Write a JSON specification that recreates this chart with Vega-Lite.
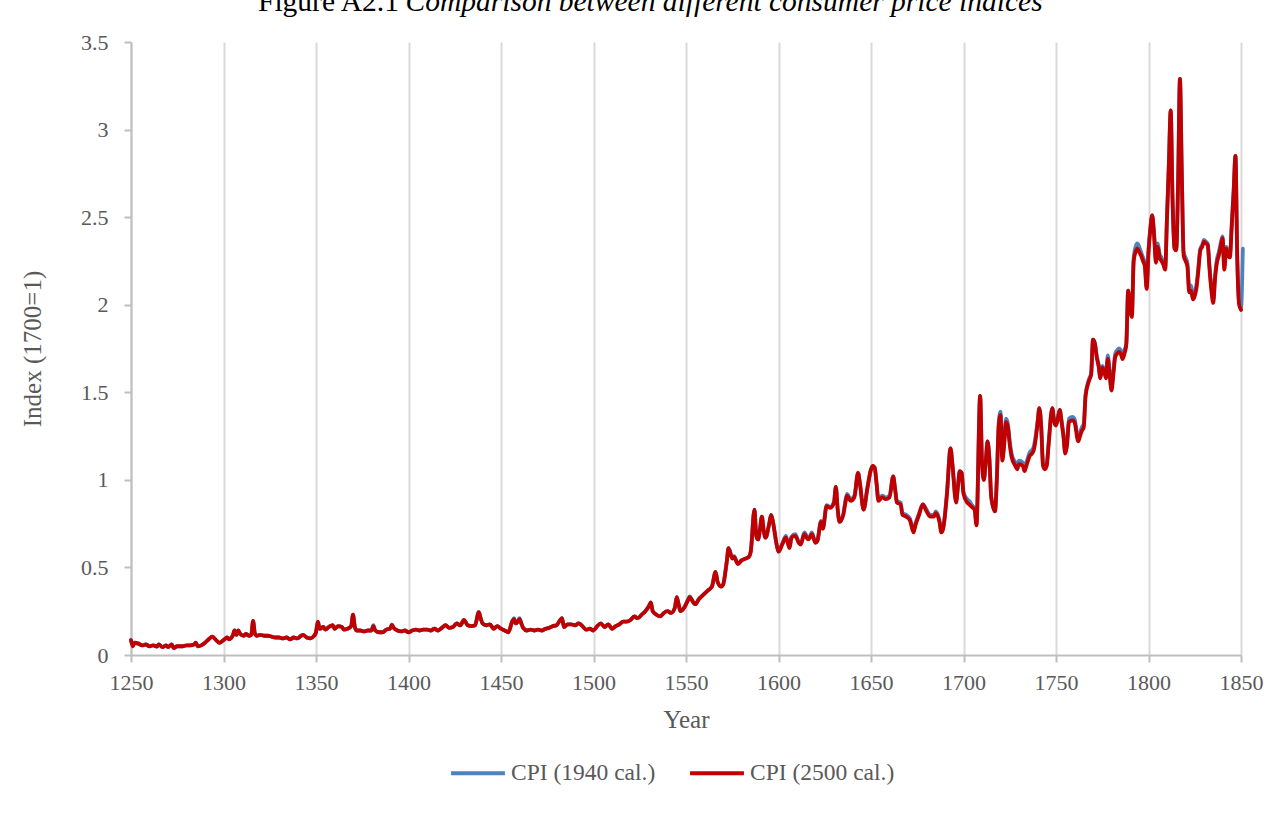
{
  "$schema": "https://vega.github.io/schema/vega-lite/v6.json",
  "width": 1110,
  "height": 613,
  "autosize": "none",
  "padding": {"left": 131, "top": 42, "right": 43, "bottom": 165},
  "background": "white",
  "title": {
    "text": "Figure A2.1",
    "subtitle": "\u200b\u00a0\u00a0\u00a0\u00a0\u00a0\u00a0\u00a0\u00a0\u00a0\u00a0\u00a0\u00a0\u00a0\u00a0\u00a0\u00a0\u00a0\u00a0\u00a0\u00a0Comparison between different consumer price indices",
    "anchor": "start",
    "align": "left",
    "frame": "group",
    "dx": 127,
    "offset": 14,
    "font": "Liberation Serif",
    "fontSize": 29.5,
    "fontWeight": "normal",
    "color": "#000000",
    "subtitleFont": "Liberation Serif",
    "subtitleFontSize": 29.5,
    "subtitleFontStyle": "italic",
    "subtitleColor": "#000000",
    "subtitlePadding": -29.5
  },
  "data": {"values": [
    {"year":1250,"b":0.085,"r":0.085},{"year":1251,"b":0.05,"r":0.05},{"year":1252,"b":0.07,"r":0.07},{"year":1254,"b":0.065,"r":0.065},
    {"year":1256,"b":0.055,"r":0.055},{"year":1258,"b":0.06,"r":0.06},{"year":1260,"b":0.05,"r":0.05},{"year":1262,"b":0.055,"r":0.055},
    {"year":1264,"b":0.048,"r":0.048},{"year":1265,"b":0.06,"r":0.06},{"year":1267,"b":0.045,"r":0.045},{"year":1269,"b":0.055,"r":0.055},
    {"year":1270,"b":0.045,"r":0.045},{"year":1272,"b":0.06,"r":0.06},{"year":1273,"b":0.04,"r":0.04},{"year":1275,"b":0.05,"r":0.05},
    {"year":1278,"b":0.05,"r":0.05},{"year":1280,"b":0.055,"r":0.055},{"year":1282,"b":0.055,"r":0.055},{"year":1284,"b":0.06,"r":0.06},
    {"year":1285,"b":0.07,"r":0.07},{"year":1286,"b":0.05,"r":0.05},{"year":1288,"b":0.055,"r":0.055},{"year":1290,"b":0.07,"r":0.07},
    {"year":1292,"b":0.09,"r":0.09},{"year":1294,"b":0.105,"r":0.105},{"year":1296,"b":0.085,"r":0.085},{"year":1298,"b":0.07,"r":0.07},
    {"year":1300,"b":0.085,"r":0.085},{"year":1302,"b":0.1,"r":0.1},{"year":1303,"b":0.09,"r":0.09},{"year":1305,"b":0.11,"r":0.11},
    {"year":1306,"b":0.14,"r":0.14},{"year":1307,"b":0.115,"r":0.115},{"year":1308,"b":0.14,"r":0.14},{"year":1309,"b":0.12,"r":0.12},
    {"year":1311,"b":0.11,"r":0.11},{"year":1312,"b":0.12,"r":0.12},{"year":1314,"b":0.11,"r":0.11},{"year":1315,"b":0.115,"r":0.115},
    {"year":1316,"b":0.195,"r":0.195},{"year":1317,"b":0.12,"r":0.12},{"year":1318,"b":0.11,"r":0.11},{"year":1320,"b":0.115,"r":0.115},
    {"year":1322,"b":0.11,"r":0.11},{"year":1324,"b":0.11,"r":0.11},{"year":1326,"b":0.105,"r":0.105},{"year":1328,"b":0.1,"r":0.1},
    {"year":1330,"b":0.1,"r":0.1},{"year":1332,"b":0.095,"r":0.095},{"year":1334,"b":0.1,"r":0.1},{"year":1336,"b":0.09,"r":0.09},
    {"year":1338,"b":0.1,"r":0.1},{"year":1340,"b":0.095,"r":0.095},{"year":1342,"b":0.11,"r":0.11},{"year":1343,"b":0.115,"r":0.115},
    {"year":1345,"b":0.1,"r":0.1},{"year":1347,"b":0.095,"r":0.095},{"year":1349,"b":0.11,"r":0.11},{"year":1350,"b":0.13,"r":0.13},
    {"year":1351,"b":0.19,"r":0.19},{"year":1352,"b":0.15,"r":0.15},{"year":1354,"b":0.16,"r":0.16},{"year":1355,"b":0.145,"r":0.145},
    {"year":1357,"b":0.16,"r":0.16},{"year":1359,"b":0.17,"r":0.17},{"year":1360,"b":0.15,"r":0.15},{"year":1362,"b":0.165,"r":0.165},
    {"year":1364,"b":0.16,"r":0.16},{"year":1365,"b":0.145,"r":0.145},{"year":1367,"b":0.15,"r":0.15},{"year":1369,"b":0.165,"r":0.165},
    {"year":1370,"b":0.23,"r":0.23},{"year":1371,"b":0.16,"r":0.16},{"year":1372,"b":0.14,"r":0.14},{"year":1374,"b":0.14,"r":0.14},
    {"year":1376,"b":0.135,"r":0.135},{"year":1378,"b":0.14,"r":0.14},{"year":1380,"b":0.14,"r":0.14},{"year":1381,"b":0.17,"r":0.165},
    {"year":1382,"b":0.14,"r":0.14},{"year":1384,"b":0.13,"r":0.13},{"year":1386,"b":0.13,"r":0.13},{"year":1388,"b":0.145,"r":0.145},
    {"year":1390,"b":0.15,"r":0.15},{"year":1391,"b":0.175,"r":0.17},{"year":1392,"b":0.155,"r":0.155},{"year":1394,"b":0.14,"r":0.14},
    {"year":1396,"b":0.135,"r":0.135},{"year":1398,"b":0.14,"r":0.14},{"year":1400,"b":0.13,"r":0.13},{"year":1402,"b":0.14,"r":0.14},
    {"year":1404,"b":0.145,"r":0.145},{"year":1406,"b":0.14,"r":0.14},{"year":1408,"b":0.145,"r":0.145},{"year":1410,"b":0.145,"r":0.145},
    {"year":1412,"b":0.14,"r":0.14},{"year":1414,"b":0.15,"r":0.15},{"year":1416,"b":0.14,"r":0.14},{"year":1418,"b":0.155,"r":0.155},
    {"year":1420,"b":0.17,"r":0.17},{"year":1422,"b":0.155,"r":0.155},{"year":1424,"b":0.16,"r":0.16},{"year":1426,"b":0.18,"r":0.18},
    {"year":1428,"b":0.17,"r":0.17},{"year":1430,"b":0.2,"r":0.2},{"year":1432,"b":0.17,"r":0.17},{"year":1434,"b":0.165,"r":0.165},
    {"year":1436,"b":0.17,"r":0.17},{"year":1438,"b":0.245,"r":0.245},{"year":1439,"b":0.21,"r":0.21},{"year":1440,"b":0.18,"r":0.18},
    {"year":1442,"b":0.17,"r":0.17},{"year":1444,"b":0.175,"r":0.175},{"year":1446,"b":0.15,"r":0.15},{"year":1448,"b":0.165,"r":0.165},
    {"year":1450,"b":0.15,"r":0.15},{"year":1452,"b":0.14,"r":0.14},{"year":1454,"b":0.13,"r":0.13},{"year":1456,"b":0.19,"r":0.19},
    {"year":1457,"b":0.21,"r":0.205},{"year":1458,"b":0.18,"r":0.18},{"year":1459,"b":0.19,"r":0.19},{"year":1460,"b":0.21,"r":0.205},
    {"year":1461,"b":0.18,"r":0.18},{"year":1462,"b":0.155,"r":0.155},{"year":1464,"b":0.14,"r":0.14},{"year":1466,"b":0.145,"r":0.145},
    {"year":1468,"b":0.14,"r":0.14},{"year":1470,"b":0.145,"r":0.145},{"year":1472,"b":0.14,"r":0.14},{"year":1474,"b":0.15,"r":0.15},
    {"year":1476,"b":0.155,"r":0.155},{"year":1478,"b":0.165,"r":0.165},{"year":1480,"b":0.17,"r":0.17},{"year":1482,"b":0.2,"r":0.2},
    {"year":1483,"b":0.21,"r":0.21},{"year":1484,"b":0.16,"r":0.16},{"year":1486,"b":0.175,"r":0.175},{"year":1488,"b":0.175,"r":0.175},
    {"year":1490,"b":0.17,"r":0.17},{"year":1492,"b":0.18,"r":0.18},{"year":1494,"b":0.165,"r":0.165},{"year":1496,"b":0.145,"r":0.145},
    {"year":1498,"b":0.15,"r":0.15},{"year":1500,"b":0.14,"r":0.14},{"year":1502,"b":0.165,"r":0.165},{"year":1504,"b":0.18,"r":0.18},
    {"year":1506,"b":0.16,"r":0.16},{"year":1508,"b":0.175,"r":0.175},{"year":1510,"b":0.15,"r":0.15},{"year":1512,"b":0.165,"r":0.165},
    {"year":1514,"b":0.175,"r":0.175},{"year":1516,"b":0.19,"r":0.19},{"year":1518,"b":0.19,"r":0.19},{"year":1520,"b":0.2,"r":0.2},
    {"year":1522,"b":0.22,"r":0.22},{"year":1524,"b":0.21,"r":0.21},{"year":1526,"b":0.23,"r":0.23},{"year":1528,"b":0.25,"r":0.25},
    {"year":1530,"b":0.28,"r":0.28},{"year":1531,"b":0.3,"r":0.3},{"year":1532,"b":0.25,"r":0.25},{"year":1534,"b":0.23,"r":0.23},
    {"year":1536,"b":0.22,"r":0.22},{"year":1538,"b":0.24,"r":0.24},{"year":1540,"b":0.25,"r":0.25},{"year":1542,"b":0.24,"r":0.24},
    {"year":1544,"b":0.27,"r":0.27},{"year":1545,"b":0.33,"r":0.33},{"year":1546,"b":0.29,"r":0.29},{"year":1547,"b":0.25,"r":0.25},
    {"year":1549,"b":0.27,"r":0.27},{"year":1551,"b":0.315,"r":0.31},{"year":1552,"b":0.335,"r":0.33},{"year":1554,"b":0.3,"r":0.3},
    {"year":1555,"b":0.29,"r":0.29},{"year":1557,"b":0.32,"r":0.32},{"year":1558,"b":0.33,"r":0.33},{"year":1560,"b":0.35,"r":0.35},
    {"year":1562,"b":0.37,"r":0.37},{"year":1564,"b":0.39,"r":0.39},{"year":1566,"b":0.475,"r":0.475},{"year":1567,"b":0.42,"r":0.42},
    {"year":1569,"b":0.39,"r":0.39},{"year":1570,"b":0.4,"r":0.4},{"year":1572,"b":0.53,"r":0.53},{"year":1573,"b":0.61,"r":0.61},
    {"year":1575,"b":0.56,"r":0.55},{"year":1576,"b":0.565,"r":0.56},{"year":1578,"b":0.52,"r":0.52},{"year":1580,"b":0.54,"r":0.54},
    {"year":1582,"b":0.55,"r":0.55},{"year":1584,"b":0.56,"r":0.56},{"year":1585,"b":0.59,"r":0.59},{"year":1587,"b":0.83,"r":0.83},
    {"year":1588,"b":0.68,"r":0.68},{"year":1589,"b":0.66,"r":0.66},{"year":1590,"b":0.72,"r":0.72},{"year":1591,"b":0.79,"r":0.79},
    {"year":1592,"b":0.71,"r":0.71},{"year":1593,"b":0.67,"r":0.67},{"year":1595,"b":0.75,"r":0.75},{"year":1596,"b":0.8,"r":0.8},
    {"year":1597,"b":0.76,"r":0.76},{"year":1599,"b":0.63,"r":0.63},{"year":1600,"b":0.59,"r":0.59},{"year":1602,"b":0.635,"r":0.63},
    {"year":1604,"b":0.68,"r":0.67},{"year":1605,"b":0.645,"r":0.64},{"year":1606,"b":0.615,"r":0.61},{"year":1607,"b":0.675,"r":0.67},
    {"year":1609,"b":0.69,"r":0.68},{"year":1611,"b":0.645,"r":0.64},{"year":1612,"b":0.635,"r":0.63},{"year":1614,"b":0.7,"r":0.69},
    {"year":1616,"b":0.665,"r":0.66},{"year":1617,"b":0.68,"r":0.67},{"year":1618,"b":0.7,"r":0.69},{"year":1620,"b":0.645,"r":0.64},
    {"year":1621,"b":0.655,"r":0.65},{"year":1623,"b":0.765,"r":0.76},{"year":1624,"b":0.725,"r":0.72},{"year":1626,"b":0.855,"r":0.85},
    {"year":1628,"b":0.845,"r":0.84},{"year":1630,"b":0.875,"r":0.87},{"year":1631,"b":0.96,"r":0.96},{"year":1632,"b":0.83,"r":0.83},
    {"year":1633,"b":0.76,"r":0.76},{"year":1635,"b":0.8,"r":0.8},{"year":1636,"b":0.87,"r":0.86},{"year":1637,"b":0.92,"r":0.91},
    {"year":1639,"b":0.89,"r":0.88},{"year":1641,"b":0.91,"r":0.9},{"year":1643,"b":1.04,"r":1.04},{"year":1644,"b":0.98,"r":0.98},
    {"year":1646,"b":0.83,"r":0.83},{"year":1648,"b":0.95,"r":0.95},{"year":1650,"b":1.06,"r":1.06},{"year":1651,"b":1.08,"r":1.08},
    {"year":1652,"b":1.07,"r":1.07},{"year":1653,"b":0.98,"r":0.98},{"year":1654,"b":0.89,"r":0.88},{"year":1656,"b":0.91,"r":0.9},
    {"year":1658,"b":0.9,"r":0.89},{"year":1660,"b":0.91,"r":0.9},{"year":1662,"b":1.02,"r":1.02},{"year":1663,"b":0.95,"r":0.95},
    {"year":1664,"b":0.88,"r":0.87},{"year":1666,"b":0.87,"r":0.86},{"year":1667,"b":0.81,"r":0.8},{"year":1669,"b":0.8,"r":0.79},
    {"year":1671,"b":0.78,"r":0.77},{"year":1673,"b":0.71,"r":0.7},{"year":1674,"b":0.75,"r":0.74},{"year":1676,"b":0.81,"r":0.8},
    {"year":1678,"b":0.86,"r":0.86},{"year":1680,"b":0.83,"r":0.82},{"year":1682,"b":0.8,"r":0.79},{"year":1684,"b":0.8,"r":0.79},
    {"year":1685,"b":0.82,"r":0.81},{"year":1687,"b":0.77,"r":0.76},{"year":1688,"b":0.71,"r":0.7},{"year":1689,"b":0.73,"r":0.72},
    {"year":1691,"b":0.92,"r":0.91},{"year":1693,"b":1.18,"r":1.18},{"year":1694,"b":1.09,"r":1.09},{"year":1696,"b":0.88,"r":0.87},
    {"year":1697,"b":0.97,"r":0.96},{"year":1698,"b":1.05,"r":1.05},{"year":1699,"b":1.04,"r":1.04},{"year":1700,"b":0.93,"r":0.92},
    {"year":1702,"b":0.89,"r":0.87},{"year":1703,"b":0.88,"r":0.86},{"year":1705,"b":0.85,"r":0.84},{"year":1706,"b":0.84,"r":0.83},
    {"year":1707,"b":0.75,"r":0.74},{"year":1709,"b":1.48,"r":1.48},{"year":1710,"b":1.1,"r":1.1},{"year":1711,"b":1.0,"r":1.0},
    {"year":1712,"b":1.1,"r":1.1},{"year":1713,"b":1.22,"r":1.22},{"year":1714,"b":1.12,"r":1.12},{"year":1715,"b":0.9,"r":0.9},
    {"year":1717,"b":0.82,"r":0.82},{"year":1718,"b":1.0,"r":1.0},{"year":1719,"b":1.32,"r":1.3},{"year":1720,"b":1.39,"r":1.37},
    {"year":1721,"b":1.13,"r":1.11},{"year":1722,"b":1.22,"r":1.2},{"year":1723,"b":1.35,"r":1.33},{"year":1724,"b":1.32,"r":1.3},
    {"year":1725,"b":1.22,"r":1.2},{"year":1726,"b":1.15,"r":1.13},{"year":1728,"b":1.1,"r":1.08},{"year":1729,"b":1.08,"r":1.06},
    {"year":1730,"b":1.11,"r":1.09},{"year":1732,"b":1.1,"r":1.08},{"year":1733,"b":1.07,"r":1.05},{"year":1734,"b":1.1,"r":1.08},
    {"year":1736,"b":1.16,"r":1.14},{"year":1737,"b":1.17,"r":1.15},{"year":1738,"b":1.19,"r":1.17},{"year":1739,"b":1.25,"r":1.23},
    {"year":1740,"b":1.33,"r":1.32},{"year":1741,"b":1.41,"r":1.41},{"year":1742,"b":1.31,"r":1.3},{"year":1743,"b":1.09,"r":1.08},
    {"year":1744,"b":1.07,"r":1.06},{"year":1745,"b":1.09,"r":1.08},{"year":1746,"b":1.21,"r":1.2},{"year":1748,"b":1.41,"r":1.41},
    {"year":1749,"b":1.34,"r":1.33},{"year":1750,"b":1.32,"r":1.31},{"year":1751,"b":1.36,"r":1.35},{"year":1752,"b":1.4,"r":1.4},
    {"year":1753,"b":1.34,"r":1.33},{"year":1754,"b":1.26,"r":1.25},{"year":1755,"b":1.16,"r":1.15},{"year":1756,"b":1.22,"r":1.2},
    {"year":1757,"b":1.35,"r":1.33},{"year":1759,"b":1.36,"r":1.34},{"year":1760,"b":1.35,"r":1.33},{"year":1762,"b":1.24,"r":1.22},
    {"year":1763,"b":1.27,"r":1.25},{"year":1764,"b":1.3,"r":1.28},{"year":1765,"b":1.32,"r":1.3},{"year":1766,"b":1.49,"r":1.48},
    {"year":1768,"b":1.58,"r":1.57},{"year":1769,"b":1.61,"r":1.6},{"year":1770,"b":1.8,"r":1.8},{"year":1771,"b":1.78,"r":1.78},
    {"year":1772,"b":1.71,"r":1.7},{"year":1773,"b":1.66,"r":1.65},{"year":1774,"b":1.59,"r":1.58},{"year":1775,"b":1.65,"r":1.64},
    {"year":1776,"b":1.63,"r":1.62},{"year":1777,"b":1.6,"r":1.58},{"year":1778,"b":1.71,"r":1.69},{"year":1779,"b":1.62,"r":1.6},
    {"year":1780,"b":1.52,"r":1.51},{"year":1781,"b":1.62,"r":1.6},{"year":1782,"b":1.72,"r":1.7},{"year":1783,"b":1.74,"r":1.72},
    {"year":1784,"b":1.75,"r":1.73},{"year":1785,"b":1.74,"r":1.72},{"year":1786,"b":1.71,"r":1.69},{"year":1787,"b":1.74,"r":1.72},
    {"year":1788,"b":1.78,"r":1.77},{"year":1789,"b":2.08,"r":2.08},{"year":1790,"b":1.99,"r":1.98},{"year":1791,"b":1.94,"r":1.93},
    {"year":1792,"b":2.27,"r":2.25},{"year":1793,"b":2.33,"r":2.3},{"year":1794,"b":2.35,"r":2.32},{"year":1795,"b":2.33,"r":2.3},
    {"year":1796,"b":2.3,"r":2.28},{"year":1797,"b":2.27,"r":2.25},{"year":1798,"b":2.24,"r":2.22},{"year":1799,"b":2.1,"r":2.09},
    {"year":1800,"b":2.31,"r":2.3},{"year":1801,"b":2.44,"r":2.43},{"year":1802,"b":2.51,"r":2.51},{"year":1803,"b":2.41,"r":2.4},
    {"year":1804,"b":2.26,"r":2.24},{"year":1805,"b":2.35,"r":2.33},{"year":1806,"b":2.29,"r":2.27},{"year":1807,"b":2.27,"r":2.25},
    {"year":1808,"b":2.24,"r":2.23},{"year":1809,"b":2.21,"r":2.2},{"year":1810,"b":2.5,"r":2.5},{"year":1811,"b":2.8,"r":2.8},
    {"year":1812,"b":3.11,"r":3.11},{"year":1813,"b":2.6,"r":2.6},{"year":1814,"b":2.33,"r":2.32},{"year":1815,"b":2.32,"r":2.31},
    {"year":1816,"b":2.7,"r":2.7},{"year":1817,"b":3.29,"r":3.29},{"year":1818,"b":2.75,"r":2.75},{"year":1819,"b":2.3,"r":2.28},
    {"year":1820,"b":2.27,"r":2.25},{"year":1821,"b":2.24,"r":2.22},{"year":1822,"b":2.1,"r":2.07},{"year":1823,"b":2.11,"r":2.08},
    {"year":1824,"b":2.06,"r":2.03},{"year":1825,"b":2.07,"r":2.05},{"year":1826,"b":2.12,"r":2.1},{"year":1827,"b":2.22,"r":2.2},
    {"year":1828,"b":2.32,"r":2.31},{"year":1829,"b":2.34,"r":2.33},{"year":1830,"b":2.37,"r":2.36},{"year":1831,"b":2.36,"r":2.35},
    {"year":1832,"b":2.35,"r":2.34},{"year":1833,"b":2.22,"r":2.2},{"year":1834,"b":2.1,"r":2.08},{"year":1835,"b":2.03,"r":2.01},
    {"year":1836,"b":2.17,"r":2.15},{"year":1837,"b":2.26,"r":2.24},{"year":1838,"b":2.3,"r":2.28},{"year":1839,"b":2.35,"r":2.33},
    {"year":1840,"b":2.39,"r":2.38},{"year":1841,"b":2.22,"r":2.2},{"year":1842,"b":2.33,"r":2.32},{"year":1843,"b":2.3,"r":2.28},
    {"year":1844,"b":2.29,"r":2.27},{"year":1845,"b":2.46,"r":2.45},{"year":1846,"b":2.65,"r":2.64},{"year":1847,"b":2.85,"r":2.85},
    {"year":1848,"b":2.27,"r":2.25},{"year":1849,"b":2.01,"r":2.0},{"year":1850,"b":1.98,"r":1.97},{"year":1851,"b":2.32,"r":null}
  ]},
  "transform": [{"fold": ["b", "r"], "as": ["series", "value"]}],
  "mark": {"type": "line", "strokeWidth": 3.8, "interpolate": "monotone", "strokeCap": "round", "strokeJoin": "round", "clip": false},
  "encoding": {
    "x": {
      "field": "year", "type": "quantitative",
      "scale": {"domain": [1250, 1850], "nice": false, "zero": false},
      "axis": {
        "title": "Year",
        "values": [1250, 1300, 1350, 1400, 1450, 1500, 1550, 1600, 1650, 1700, 1750, 1800, 1850],
        "format": "d",
        "grid": true,
        "gridColor": "#D9D9D9",
        "gridWidth": 2,
        "domainColor": "#BFBFBF",
        "domainWidth": 2,
        "tickColor": "#BFBFBF",
        "tickWidth": 2,
        "tickSize": 7,
        "labelPadding": 10,
        "labelFlush": false,
        "titlePadding": 14
      }
    },
    "y": {
      "field": "value", "type": "quantitative",
      "scale": {"domain": [0, 3.5], "nice": false},
      "axis": {
        "title": "Index (1700=1)",
        "values": [0, 0.5, 1, 1.5, 2, 2.5, 3, 3.5],
        "format": "~g",
        "grid": false,
        "domainColor": "#BFBFBF",
        "domainWidth": 2,
        "tickColor": "#BFBFBF",
        "tickWidth": 2,
        "tickSize": 7,
        "labelPadding": 16,
        "titlePadding": 35
      }
    },
    "color": {
      "field": "series", "type": "nominal",
      "scale": {"domain": ["b", "r"], "range": ["#4F81BD", "#C00000"]},
      "legend": {
        "title": null,
        "orient": "none",
        "legendX": 318,
        "legendY": 702,
        "padding": 0,
        "direction": "horizontal",
        "labelExpr": "datum.label == 'b' ? 'CPI (1940 cal.)' : 'CPI (2500 cal.)'",
        "symbolType": "stroke",
        "symbolSize": 2900,
        "symbolStrokeWidth": 4,
        "labelOffset": 4,
        "columnPadding": 26
      }
    }
  },
  "config": {
    "font": "Liberation Serif",
    "view": {"stroke": null},
    "axis": {
      "labelFont": "Liberation Serif",
      "labelFontSize": 22,
      "labelColor": "#595959",
      "titleFont": "Liberation Serif",
      "titleFontSize": 25,
      "titleFontWeight": "normal",
      "titleColor": "#595959"
    },
    "legend": {
      "labelFont": "Liberation Serif",
      "labelFontSize": 23.5,
      "labelColor": "#595959"
    }
  }
}
